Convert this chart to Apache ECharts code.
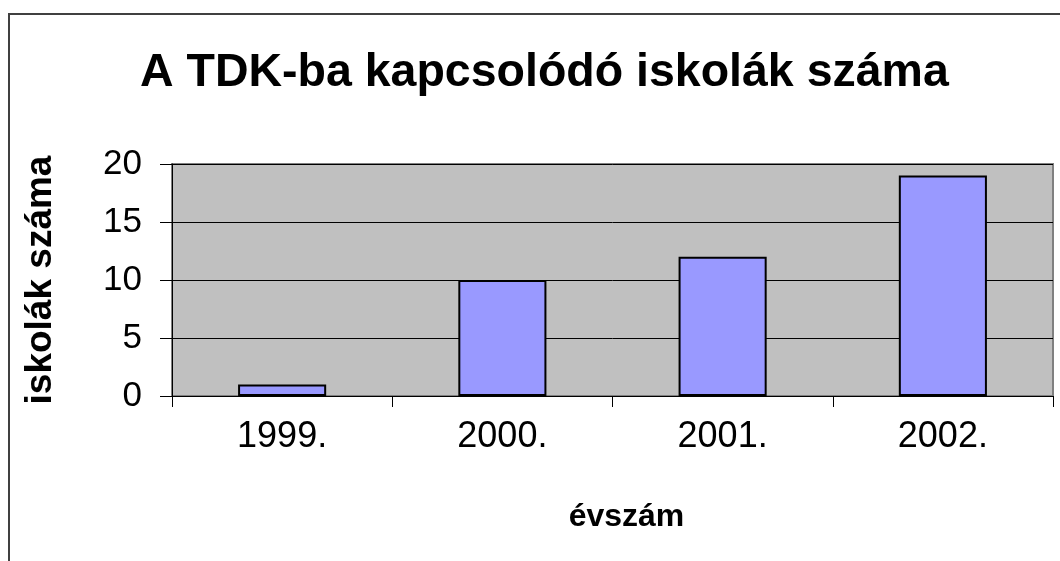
<!DOCTYPE html>
<html>
<head>
<meta charset="utf-8">
<style>
  html, body { margin: 0; padding: 0; background: #fff; }
  #chart { width: 1060px; height: 561px; }
</style>
<script src="https://cdn.jsdelivr.net/npm/echarts@6/dist/echarts.min.js"></script>
</head>
<body>
<div id="chart"></div>
<script>
const years = ['1999.', '2000.', '2001.', '2002.'];
const schoolCounts = [1, 10, 12, 19];
const yTicks = { min: 0, max: 20, interval: 5 };

const chart = echarts.init(document.getElementById('chart'));
const font = "'Liberation Sans', Arial, sans-serif";

chart.setOption({
  backgroundColor: '#fff',
  animation: false,
  title: {
    text: 'A TDK-ba kapcsolódó iskolák száma',
    left: 135,
    top: 45,
    textStyle: { fontFamily: font, fontSize: 46.5, fontWeight: 'bold', color: '#000' }
  },
  graphic: [{
    type: 'rect',
    shape: { x: 9, y: 14, width: 1200, height: 700 },
    style: { fill: 'none', stroke: '#404040', lineWidth: 2 },
    silent: true
  }],
  grid: {
    left: 172, right: 7, top: 164, bottom: 165,
    show: true,
    backgroundColor: '#C0C0C0',
    borderColor: '#808080',
    borderWidth: 2
  },
  xAxis: {
    type: 'category',
    data: years,
    name: 'évszám',
    nameLocation: 'middle',
    nameGap: 105,
    nameTextStyle: { fontFamily: font, fontSize: 32, fontWeight: 'bold', color: '#000', padding: [0, 0, 0, 28] },
    axisLine: { lineStyle: { color: '#000', width: 1 } },
    axisTick: { show: true, length: 11, lineStyle: { color: '#000' } },
    axisLabel: { fontFamily: font, fontSize: 36, color: '#000', margin: 23 },
    splitLine: { show: false }
  },
  yAxis: {
    type: 'value',
    min: yTicks.min,
    max: yTicks.max,
    interval: yTicks.interval,
    name: 'iskolák száma',
    nameLocation: 'middle',
    nameRotate: 90,
    nameGap: 113,
    nameTextStyle: { fontFamily: font, fontSize: 37, fontWeight: 'bold', color: '#000' },
    axisLine: { show: true, lineStyle: { color: '#000', width: 1 } },
    axisTick: { show: true, length: 12, lineStyle: { color: '#000' } },
    axisLabel: { fontFamily: font, fontSize: 35, color: '#000', margin: 30 },
    splitLine: { show: true, lineStyle: { color: '#000', width: 1 } }
  },
  series: [{
    type: 'bar',
    data: schoolCounts,
    barWidth: '40%',
    itemStyle: { color: '#9999FF', borderColor: '#000', borderWidth: 2 }
  }]
});
</script>
</body>
</html>
